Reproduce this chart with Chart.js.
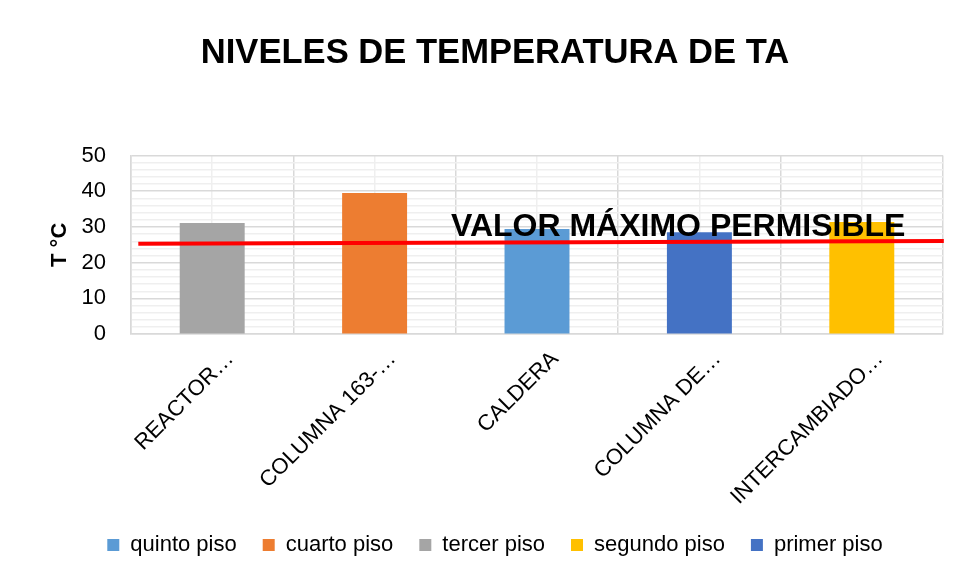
<!DOCTYPE html>
<html>
<head>
<meta charset="utf-8">
<script src="https://cdn.jsdelivr.net/npm/chart.js@4.4.1/dist/chart.umd.min.js"></script>
<style>
  html, body { margin: 0; padding: 0; background: #fff; }
  #wrap { width: 960px; height: 577px; }
</style>
</head>
<body>
<div id="wrap"><canvas id="tempChart" width="960" height="577"></canvas></div>
<script>
// Chart data
const categories = ['REACTOR…', 'COLUMNA 163-…', 'CALDERA', 'COLUMNA DE…', 'INTERCAMBIADO…'];
const seriesNames = ['quinto piso', 'cuarto piso', 'tercer piso', 'segundo piso', 'primer piso'];
const quintoPiso = [null, null, 29.4, null, null];
const cuartoPiso = [null, 39.5, null, null, null];
const tercerPiso = [31.1, null, null, null, null];
const segundoPiso = [null, null, null, null, 31.4];
const primerPiso = [null, null, null, 28.5, null];
const seriesColors = ['#5B9BD5', '#ED7D31', '#A5A5A5', '#FFC000', '#4472C4'];

// Limit line (start / end value) and its label
const limitValues = [25.3, 26.1];
const limitLabel = 'VALOR MÁXIMO PERMISIBLE';
const yTicks = [0, 10, 20, 30, 40, 50];

const FONT = "'Liberation Sans', Arial, sans-serif";

const seriesData = [quintoPiso, cuartoPiso, tercerPiso, segundoPiso, primerPiso];

const barSets = seriesNames.map((name, i) => ({
  type: 'bar',
  label: name,
  data: seriesData[i],
  backgroundColor: seriesColors[i],
  borderWidth: 0,
  barPercentage: 0.4,
  categoryPercentage: 1,
  grouped: false,
  xAxisID: 'x',
  order: 2
}));

// red line across the whole plot, on its own hidden 0..1 axis
const limitSet = {
  type: 'line',
  label: 'limite',
  data: [{ x: 0.009, y: limitValues[0] }, { x: 1.001, y: limitValues[1] }],
  borderColor: '#FF0000',
  borderWidth: 4,
  pointRadius: 0,
  xAxisID: 'x2',
  clip: false,
  order: 1
};

// draws the "VALOR MÁXIMO PERMISIBLE" text
const limitText = {
  id: 'limitText',
  afterDatasetsDraw(chart) {
    const ctx = chart.ctx;
    const x = chart.scales.x2.getPixelForValue(0.394);
    const y = chart.scales.y.getPixelForValue(27.6);
    ctx.save();
    ctx.font = 'bold 32px ' + FONT;
    ctx.fillStyle = '#000';
    ctx.textAlign = 'left';
    ctx.textBaseline = 'alphabetic';
    ctx.fillText(limitLabel, x, y);
    ctx.restore();
  }
};

const ctx = document.getElementById('tempChart').getContext('2d');
const chart = new Chart(ctx, {
  type: 'bar',
  data: {
    labels: categories,
    datasets: [...barSets, limitSet]
  },
  plugins: [limitText],
  options: {
    responsive: false,
    animation: false,
    layout: { padding: { left: 47, right: 17, top: 10, bottom: 11 } },
    plugins: {
      title: {
        display: true,
        text: 'NIVELES DE TEMPERATURA DE TA',
        color: '#000',
        font: { family: FONT, size: 34.6, weight: 'bold' },
        padding: { top: 23, bottom: 81 }
      },
      legend: {
        position: 'bottom',
        labels: {
          color: '#000',
          font: { family: FONT, size: 22 },
          boxWidth: 12,
          boxHeight: 12,
          padding: 26,
          filter: item => item.datasetIndex < seriesNames.length
        }
      },
      tooltip: { enabled: false }
    },
    scales: {
      x: {
        type: 'category',
        offset: true,
        afterFit: axis => { axis.height -= 14; },
        grid: { display: true, offset: true, color: '#D9D9D9', lineWidth: 1.5, drawTicks: false },
        border: { display: true, color: '#D9D9D9', width: 1.5 },
        ticks: {
          color: '#000',
          font: { family: FONT, size: 22 },
          maxRotation: 45,
          minRotation: 45,
          padding: 12,
          labelOffset: 18,
          autoSkip: false
        }
      },
      xc: {
        type: 'category',
        labels: categories,
        offset: true,
        position: 'bottom',
        grid: { display: true, offset: false, color: '#EFEFEF', lineWidth: 1.5, drawTicks: false },
        border: { display: false },
        ticks: { display: false }
      },
      x2: {
        type: 'linear',
        min: 0,
        max: 1,
        offset: false,
        display: false
      },
      y: {
        min: 0,
        max: 50,
        afterBuildTicks: axis => {
          const t = [];
          for (let v = 0; v <= 50; v += 2) t.push({ value: v });
          axis.ticks = t;
        },
        afterFit: axis => { axis.width = 84; },
        grid: {
          color: c => (yTicks.includes(c.tick.value) ? '#D9D9D9' : '#EFEFEF'),
          lineWidth: 1.5,
          drawTicks: false
        },
        border: { display: true, color: '#D9D9D9', width: 1.5 },
        ticks: {
          color: '#000',
          font: { family: FONT, size: 22 },
          padding: 25,
          autoSkip: false,
          callback: v => (yTicks.includes(v) ? String(v) : '')
        },
        title: {
          display: true,
          text: 'T °C',
          color: '#000',
          font: { family: FONT, size: 22, weight: 'bold' },
          padding: { top: 0, bottom: 8 }
        }
      }
    }
  }
});
</script>
</body>
</html>
